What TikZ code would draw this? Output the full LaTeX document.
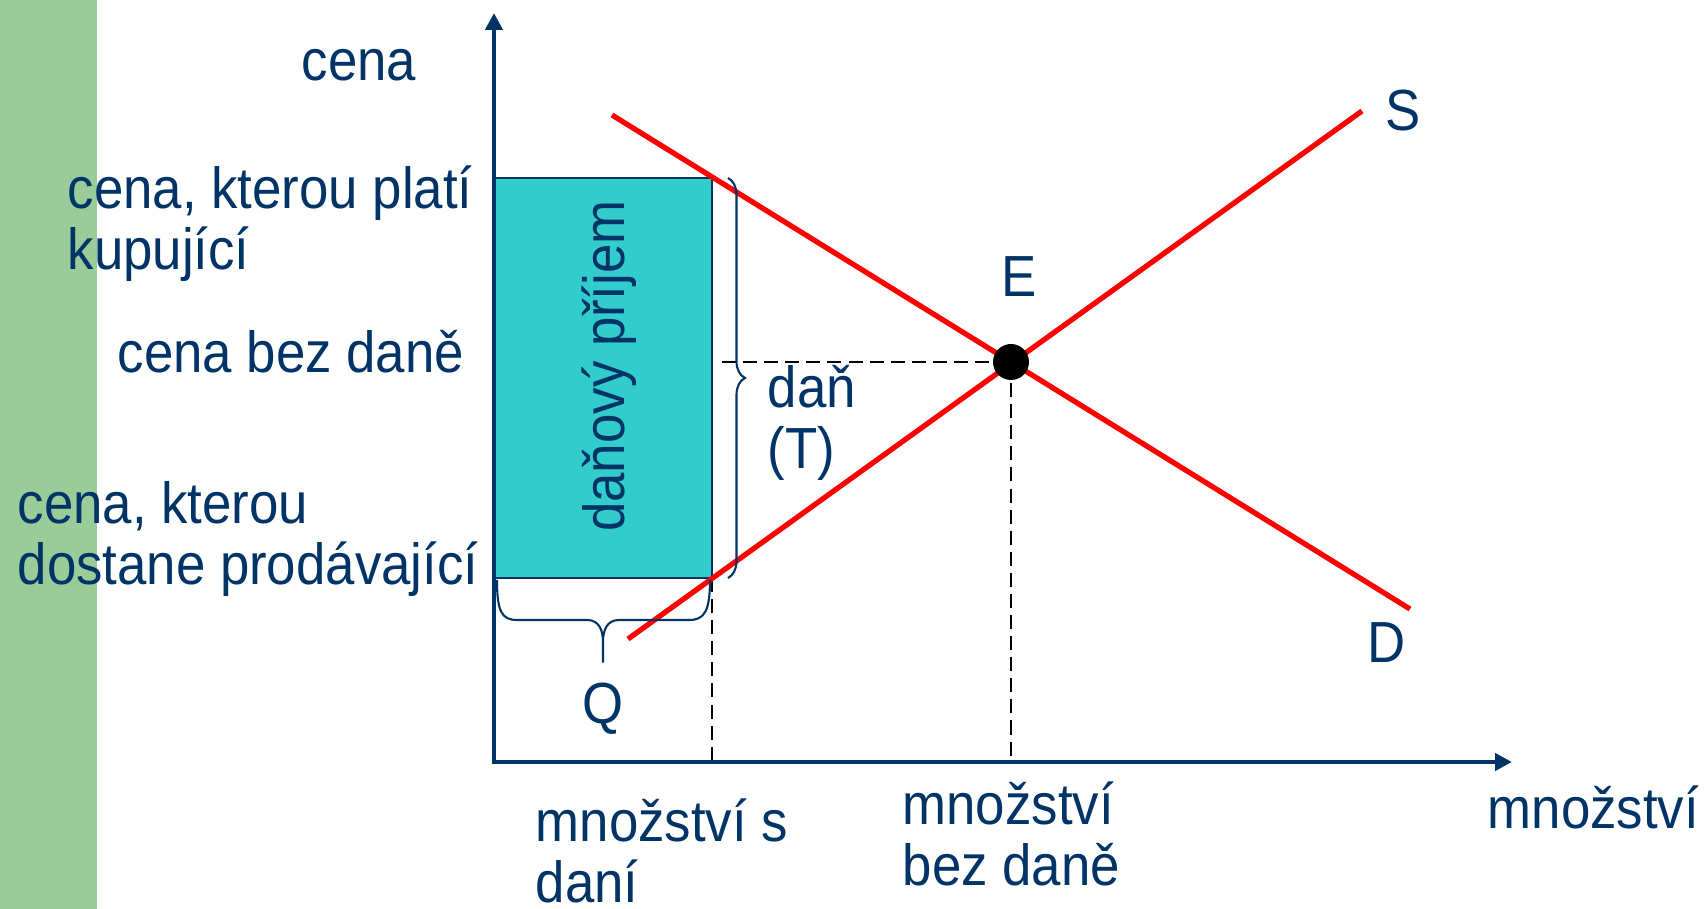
\documentclass[tikz,border=0pt]{standalone}
\usepackage{fontspec}
\setmainfont{Liberation Sans}[FakeStretch=0.91]
\usepackage{xcolor}
\usetikzlibrary{arrows.meta, decorations.pathreplacing}

\definecolor{ink}{RGB}{0,51,102}
\definecolor{stripgreen}{RGB}{153,204,153}
\definecolor{taxfill}{RGB}{51,204,204}

\begin{document}
\begin{tikzpicture}[
    lbl/.style={inner sep=0pt, text=ink, align=left, font=\fontsize{16.5}{17.6}\selectfont},
    axis/.style={{Triangle[length=4.8pt,width=4.8pt]}-{Triangle[length=4.8pt,width=4.8pt]}, line width=1.4pt, draw=ink},
    curve/.style={line width=1.5pt, draw=red},
    guide/.style={dash pattern=on 4pt off 2pt, line width=0.7pt, draw=black},
    brc/.style={decorate, decoration={brace, amplitude=0.17cm}, line width=0.6pt, draw=ink}
]

\useasboundingbox (-4.94,-1.47) rectangle (12.11,7.62);
\fill[stripgreen] (-4.94,-1.47) rectangle (-3.97,7.62);

\coordinate (O) at (0,0);
\coordinate (E) at (5.17,4.00);
\coordinate (qt) at (2.18,1.84);

% tax revenue box
\filldraw[fill=taxfill, draw=ink, line width=0.6pt] (0,1.84) rectangle (2.18,5.84);
\node[lbl, rotate=90, anchor=base] (rev) at (1.31,3.96) {daňový příjem};

% guides
\draw[guide] (2.28,4.00) -- (E);
\draw[guide] (E) -- (E |- O);
\draw[guide] (qt) -- (qt |- O);

% demand and supply
\draw[curve] (1.18,6.47) -- (9.16,1.53);
\draw[curve] (1.34,1.23) -- (8.68,6.51);
\fill[black] (E) circle (0.18);

\draw[axis] (0,7.49) -- (O) -- (10.18,0);

% braces
\draw[brc] (2.34,5.84) -- (2.34,1.84);
\draw[ink, line width=0.6pt, line join=round] (0.03,1.82) .. controls (0.03,1.50) and (0.08,1.42) .. (0.23,1.42) -- (0.93,1.42)
    .. controls (1.05,1.42) and (1.09,1.32) .. (1.09,1.20) -- (1.09,1.00) -- (1.09,1.20)
    .. controls (1.09,1.32) and (1.13,1.42) .. (1.25,1.42) -- (1.95,1.42) .. controls (2.10,1.42) and (2.16,1.50) .. (2.16,1.82);

% labels (two-line nodes sit on their last baseline)
\node[lbl, anchor=base west] (cena) at (-1.93,6.81) {cena};
\node[lbl, anchor=base west] (buyer) at (-4.27,4.92) {cena, kterou platí\\kupující};
\node[lbl, anchor=base west] (notax) at (-3.77,3.89) {cena bez daně};
\node[lbl, anchor=base west] (seller) at (-4.77,1.77) {cena, kterou\\dostane prodávající};
\node[lbl, anchor=base west] (tax) at (2.73,2.93) {daň\\(T)};
\node[lbl, anchor=base] (lE) at (5.25,4.65) {E};
\node[lbl, anchor=base] (lS) at (9.09,6.31) {S};
\node[lbl, anchor=base] (lD) at (8.93,0.99) {D};
\node[lbl, anchor=base] (lQ) at (1.09,0.38) {Q};
\node[lbl, anchor=base west] (qtax) at (0.41,-1.41) {množství s\\daní};
\node[lbl, anchor=base west] (qnotax) at (4.08,-1.24) {množství\\bez daně};
\node[lbl, anchor=base west] (qty) at (9.93,-0.67) {množství};

\end{tikzpicture}
\end{document}
